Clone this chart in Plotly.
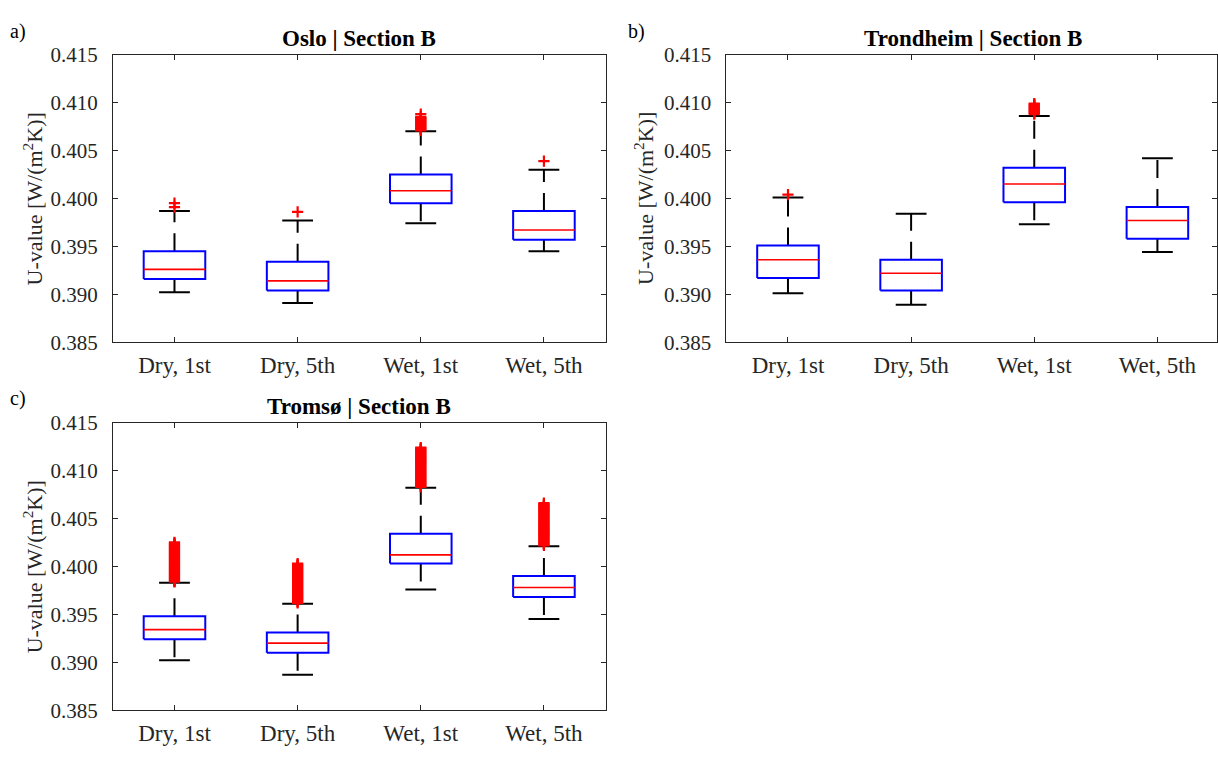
import plotly.graph_objects as go

categories = ["Dry, 1st", "Dry, 5th", "Wet, 1st", "Wet, 5th"]
yticks = [0.385, 0.390, 0.395, 0.400, 0.405, 0.410, 0.415]

# Oslo
oslo_lower = [0.3902, 0.3891, 0.3974, 0.3945]
oslo_q1 = [0.3916, 0.3904, 0.3995, 0.3957]
oslo_median = [0.3926, 0.3914, 0.4008, 0.3967]
oslo_q3 = [0.3945, 0.3934, 0.4025, 0.3987]
oslo_upper = [0.3987, 0.3977, 0.4070, 0.4030]
oslo_out_dry1 = [0.3991, 0.3995]
oslo_out_dry5 = [0.3986]
oslo_out_wet1 = [0.4071, 0.4072, 0.4073, 0.4074, 0.4075, 0.4076, 0.4077, 0.4078,
                 0.4079, 0.4080, 0.4081, 0.4082, 0.4083, 0.4084, 0.4085, 0.4088]
oslo_out_wet5 = [0.4039]

# Trondheim
trd_lower = [0.3901, 0.3889, 0.3973, 0.3944]
trd_q1 = [0.3917, 0.3904, 0.3996, 0.3958]
trd_median = [0.3936, 0.3922, 0.4015, 0.3977]
trd_q3 = [0.3951, 0.3936, 0.4032, 0.3991]
trd_upper = [0.4001, 0.3984, 0.4086, 0.4042]
trd_out_dry1 = [0.4004]
trd_out_dry5 = []
trd_out_wet1 = [0.4088, 0.4089, 0.4090, 0.4091, 0.4092, 0.4093, 0.4094, 0.4095,
                0.4096, 0.4097, 0.4098, 0.4099]
trd_out_wet5 = []

# Tromsø
tro_lower = [0.3902, 0.3887, 0.3976, 0.3945]
tro_q1 = [0.3924, 0.3910, 0.4003, 0.3968]
tro_median = [0.3934, 0.3920, 0.4012, 0.3978]
tro_q3 = [0.3948, 0.3931, 0.4034, 0.3990]
tro_upper = [0.3983, 0.3961, 0.4082, 0.4021]
tro_out_dry1 = [0.3984, 0.3985, 0.3986, 0.3987, 0.3988, 0.3989, 0.3990, 0.3991,
                0.3992, 0.3993, 0.3994, 0.3995, 0.3996, 0.3997, 0.3998, 0.3999,
                0.4000, 0.4001, 0.4002, 0.4003, 0.4004, 0.4005, 0.4006, 0.4007,
                0.4008, 0.4009, 0.4010, 0.4011, 0.4012, 0.4013, 0.4014, 0.4015,
                0.4016, 0.4017, 0.4018, 0.4019, 0.4020, 0.4021, 0.4022, 0.4023,
                0.4024, 0.4025]
tro_out_dry5 = [0.3962, 0.3963, 0.3964, 0.3965, 0.3966, 0.3967, 0.3968, 0.3969,
                0.3970, 0.3971, 0.3972, 0.3973, 0.3974, 0.3975, 0.3976, 0.3977,
                0.3978, 0.3979, 0.3980, 0.3981, 0.3982, 0.3983, 0.3984, 0.3985,
                0.3986, 0.3987, 0.3988, 0.3989, 0.3990, 0.3991, 0.3992, 0.3993,
                0.3994, 0.3995, 0.3996, 0.3997, 0.3998, 0.3999, 0.4000, 0.4001,
                0.4002, 0.4003]
tro_out_wet1 = [0.4083, 0.4084, 0.4085, 0.4086, 0.4087, 0.4088, 0.4089, 0.4090,
                0.4091, 0.4092, 0.4093, 0.4094, 0.4095, 0.4096, 0.4097, 0.4098,
                0.4099, 0.4100, 0.4101, 0.4102, 0.4103, 0.4104, 0.4105, 0.4106,
                0.4107, 0.4108, 0.4109, 0.4110, 0.4111, 0.4112, 0.4113, 0.4114,
                0.4115, 0.4116, 0.4117, 0.4118, 0.4119, 0.4120, 0.4121, 0.4122,
                0.4123, 0.4124]
tro_out_wet5 = [0.4022, 0.4023, 0.4024, 0.4025, 0.4026, 0.4027, 0.4028, 0.4029,
                0.4030, 0.4031, 0.4032, 0.4033, 0.4034, 0.4035, 0.4036, 0.4037,
                0.4038, 0.4039, 0.4040, 0.4041, 0.4042, 0.4043, 0.4044, 0.4045,
                0.4046, 0.4047, 0.4048, 0.4049, 0.4050, 0.4051, 0.4052, 0.4053,
                0.4054, 0.4055, 0.4056, 0.4057, 0.4058, 0.4059, 0.4060, 0.4061,
                0.4062, 0.4063, 0.4064, 0.4065, 0.4066]

panels = [
    dict(title="Oslo | Section B", label="a)", lower=oslo_lower, q1=oslo_q1, med=oslo_median,
         q3=oslo_q3, upper=oslo_upper,
         out=[oslo_out_dry1, oslo_out_dry5, oslo_out_wet1, oslo_out_wet5]),
    dict(title="Trondheim | Section B", label="b)", lower=trd_lower, q1=trd_q1, med=trd_median,
         q3=trd_q3, upper=trd_upper,
         out=[trd_out_dry1, trd_out_dry5, trd_out_wet1, trd_out_wet5]),
    dict(title="Tromsø | Section B", label="c)", lower=tro_lower, q1=tro_q1, med=tro_median,
         q3=tro_q3, upper=tro_upper,
         out=[tro_out_dry1, tro_out_dry5, tro_out_wet1, tro_out_wet5]),
]

W, H = 1218, 759
# plot areas in pixels: (left, right, top, bottom, x-range right end)
areas = [(113, 606, 44, 341, 4.5), (727, 1218, 44, 341, 4.484), (113, 606, 424, 721, 4.5)]
labelpos = [(18, 20), (637, 20), (18, 399)]
ytitle_x = [33, 645, 33]

FONT = "Liberation Serif, Times New Roman, serif"
BOXW = 0.25   # half box width
CAPW = 0.125  # half cap width

fig = go.Figure()
annotations = []
layout_axes = {}

for i, p in enumerate(panels):
    xa = "x" if i == 0 else f"x{i+1}"
    ya = "y" if i == 0 else f"y{i+1}"
    pos = list(range(1, len(categories) + 1))

    # whiskers (dashed)
    wx, wy = [], []
    for k, c in enumerate(pos):
        wx += [c, c, None, c, c, None]
        wy += [p["q3"][k], p["upper"][k], None, p["q1"][k], p["lower"][k], None]
    fig.add_trace(go.Scatter(x=wx, y=wy, mode="lines", xaxis=xa, yaxis=ya,
                             line=dict(color="black", width=2, dash="18px,11px"),
                             hoverinfo="skip", showlegend=False))
    # caps
    cx, cy = [], []
    for k, c in enumerate(pos):
        cx += [c - CAPW, c + CAPW, None, c - CAPW, c + CAPW, None]
        cy += [p["upper"][k], p["upper"][k], None, p["lower"][k], p["lower"][k], None]
    fig.add_trace(go.Scatter(x=cx, y=cy, mode="lines", xaxis=xa, yaxis=ya,
                             line=dict(color="black", width=2),
                             hoverinfo="skip", showlegend=False))
    # boxes
    bx, by = [], []
    for k, c in enumerate(pos):
        bx += [c - BOXW, c + BOXW, c + BOXW, c - BOXW, c - BOXW, None]
        by += [p["q1"][k], p["q1"][k], p["q3"][k], p["q3"][k], p["q1"][k], None]
    fig.add_trace(go.Scatter(x=bx, y=by, mode="lines", xaxis=xa, yaxis=ya,
                             line=dict(color="#0000ff", width=2),
                             hoverinfo="skip", showlegend=False))
    # medians
    mx, my = [], []
    for k, c in enumerate(pos):
        mx += [c - BOXW, c + BOXW, None]
        my += [p["med"][k], p["med"][k], None]
    fig.add_trace(go.Scatter(x=mx, y=my, mode="lines", xaxis=xa, yaxis=ya,
                             line=dict(color="#ff0000", width=1.6),
                             hoverinfo="skip", showlegend=False))
    # outliers
    ox, oy = [], []
    for k, c in enumerate(pos):
        ox += [c] * len(p["out"][k])
        oy += p["out"][k]
    fig.add_trace(go.Scatter(x=ox, y=oy, mode="markers", xaxis=xa, yaxis=ya,
                             marker=dict(symbol="cross-thin", size=8,
                                         line=dict(color="#ff0000", width=2.2)),
                             hoverinfo="skip", showlegend=False))

    l, r, t, b, xr = areas[i]
    xdom = [l / W, r / W]
    ydom = [1 - b / H, 1 - t / H]
    axis_common = dict(showline=True, linecolor="#262626", linewidth=1, mirror="ticks",
                       ticks="inside", ticklen=5, tickwidth=1, tickcolor="#262626",
                       showgrid=False, zeroline=False)
    layout_axes["xaxis" if i == 0 else f"xaxis{i+1}"] = dict(
        domain=xdom, range=[0.5, xr], tickvals=pos, ticktext=categories,
        anchor=ya, ticklabelstandoff=2,
        tickfont=dict(family=FONT, size=23, color="#262626"), **axis_common)
    layout_axes["yaxis" if i == 0 else f"yaxis{i+1}"] = dict(
        domain=ydom, range=[0.385, 0.415], tickvals=yticks, tickformat=".3f",
        anchor=xa, ticklabelstandoff=10,
        tickfont=dict(family=FONT, size=21, color="#262626"), **axis_common)

    # title
    annotations.append(dict(text=f"<b>{p['title']}</b>", xref="paper", yref="paper",
                            x=(l + (r if i != 1 else 1220)) / 2 / W, y=1 - (t - 17) / H,
                            showarrow=False, xanchor="center", yanchor="middle",
                            font=dict(family=FONT, size=23, color="black")))
    # panel label
    lx, ly = labelpos[i]
    annotations.append(dict(text=p["label"], xref="paper", yref="paper",
                            x=lx / W, y=1 - ly / H, showarrow=False,
                            xanchor="center", yanchor="middle",
                            font=dict(family=FONT, size=20, color="black")))
    # y title
    annotations.append(dict(text="U-value [W/(m<sup>2</sup>K)]", xref="paper", yref="paper",
                            x=ytitle_x[i] / W, y=1 - (t + b) / 2 / H, showarrow=False,
                            textangle=-90, xanchor="center", yanchor="middle",
                            font=dict(family=FONT, size=22, color="#262626")))

fig.update_layout(width=W, height=H, margin=dict(l=0, r=0, t=0, b=0),
                  plot_bgcolor="white", paper_bgcolor="white",
                  annotations=annotations, **layout_axes)

fig.write_html("out.html")
